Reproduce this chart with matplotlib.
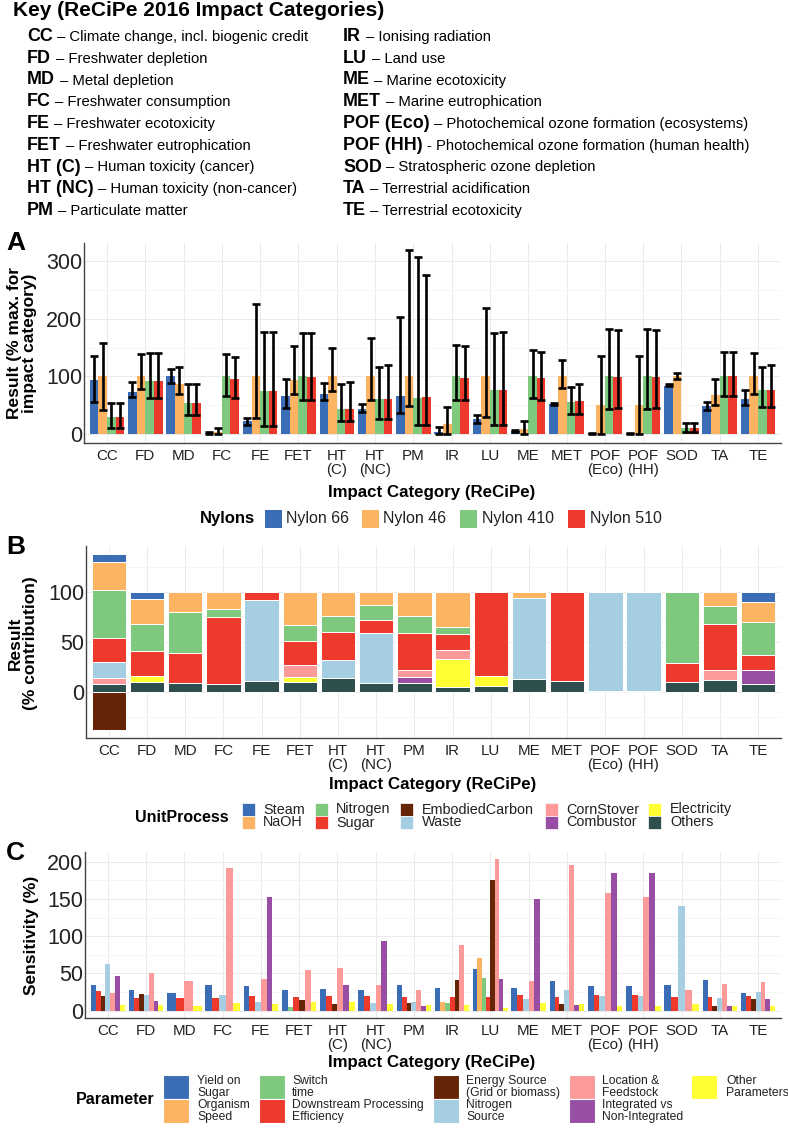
import matplotlib
matplotlib.use('Agg')
import matplotlib.pyplot as plt
import numpy as np
from matplotlib.patches import Rectangle

plt.rcParams['font.family'] = ['Liberation Sans', 'DejaVu Sans']

# ---------------- data ----------------
categories = ['CC', 'FD', 'MD', 'FC', 'FE', 'FET', 'HT\n(C)', 'HT\n(NC)', 'PM', 'IR', 'LU',
              'ME', 'MET', 'POF\n(Eco)', 'POF\n(HH)', 'SOD', 'TA', 'TE']

# Panel A: result as % of max for impact category, with error ranges
nylons = ['Nylon 66', 'Nylon 46', 'Nylon 410', 'Nylon 510']
n66 = [94, 72, 100, 1, 22, 66, 70, 43, 65, 4, 25, 5, 52, 1, 1, 84, 48, 61]
n66_lo = [56, 64, 88, 0, 16, 45, 58, 38, 36, 0, 18, 3, 50, 0, 0, 83, 42, 50]
n66_hi = [136, 90, 113, 3, 28, 95, 88, 51, 203, 12, 32, 7, 54, 2, 2, 86, 55, 77]
n46 = [100, 100, 86, 3, 100, 93, 100, 100, 100, 17, 100, 8, 100, 50, 50, 100, 68, 100]
n46_lo = [42, 78, 70, 0, 27, 70, 74, 58, 48, 0, 30, 0, 80, 0, 0, 95, 50, 70]
n46_hi = [158, 139, 116, 10, 225, 152, 150, 166, 320, 47, 219, 22, 129, 135, 135, 106, 96, 141]
n410 = [30, 92, 53, 100, 75, 100, 43, 60, 63, 100, 76, 100, 55, 100, 100, 10, 100, 77]
n410_lo = [10, 62, 32, 65, 13, 58, 22, 25, 15, 58, 15, 62, 35, 43, 43, 3, 65, 47]
n410_hi = [54, 140, 87, 139, 178, 175, 87, 117, 307, 155, 176, 145, 81, 183, 183, 18, 143, 117]
n510 = [30, 92, 53, 96, 75, 98, 44, 61, 64, 97, 76, 97, 57, 98, 98, 10, 100, 77]
n510_lo = [10, 63, 32, 62, 13, 58, 22, 25, 16, 58, 15, 58, 35, 45, 45, 3, 65, 47]
n510_hi = [54, 141, 87, 134, 178, 175, 91, 119, 276, 153, 177, 143, 87, 180, 180, 18, 143, 119]

# Panel B: % contribution by unit process
up_steam = [8, 7, 0, 0, 0, 0, 0, 0, 0, 0, 0, 0, 0, 0, 0, 0, 0, 10]
up_naoh = [28, 25, 20, 17, 0, 33, 24, 13, 24, 35, 0, 6, 0, 0, 0, 0, 14, 20]
up_nitrogen = [48, 27, 41, 8, 0, 16, 16, 15, 17, 7, 0, 0, 0, 0, 0, 71, 18, 33]
up_sugar = [24, 25, 30, 67, 8, 24, 28, 13, 37, 16, 84, 0, 89, 0, 0, 19, 46, 15]
up_embodied = [-38, 0, 0, 0, 0, 0, 0, 0, 0, 0, 0, 0, 0, 0, 0, 0, 0, 0]
up_waste = [16, 0, 0, 0, 81, 0, 18, 50, 0, 0, 0, 81, 0, 98.5, 98.5, 0, 0, 0]
up_cornstover = [6, 0, 0, 0, 0, 12, 0, 0, 7, 9, 0, 0, 0, 0, 0, 0, 10, 0]
up_combustor = [0, 0, 0, 0, 0, 0, 0, 0, 6, 0, 0, 0, 0, 0, 0, 0, 0, 14]
up_electricity = [0, 6, 0, 0, 0, 5, 0, 0, 0, 28, 10, 0, 0, 0, 0, 0, 0, 0]
up_others = [8, 10, 9, 8, 11, 10, 14, 9, 9, 5, 6, 13, 11, 1.5, 1.5, 10, 12, 8]

# Panel C: sensitivity (%) by parameter (nan = parameter not shown)
nan = np.nan
p_yield = [35, 27, 24, 35, 33, 28, 29, 27, 34, 30, 56, 30, 40, 33.5, 33.5, 34, 41, 23]
p_speed = [nan, nan, nan, nan, nan, nan, nan, nan, nan, 11, 70, nan, nan, nan, nan, nan, nan, nan]
p_switch = [nan, nan, nan, nan, nan, 5, nan, nan, nan, 10, 44, nan, nan, nan, nan, nan, nan, nan]
p_downstream = [26, 17, 17, 17, 20, 18, 19, 20, 18, 18, 18, 21, 18, 20.5, 20.5, 18, 18, 19]
p_energy = [19, 22, nan, nan, nan, 14, 9, nan, 10, 41, 175, nan, 9, nan, nan, nan, 6, 16]
p_nitrogen = [62, 21, nan, 21, 12, nan, nan, 10, 12, nan, nan, 15, 27, 19, 19, 140, 17, 25]
p_location = [24, 50, 40, 191, 42, 55, 57, 34, 27, 88, 204, 40, 196, 158, 153, 27, 36, 39]
p_integrated = [46, 13, nan, nan, 152, nan, 35, 93, 6, nan, 42, 150, 8, 185, 185, nan, 6, 16]
p_other = [8, 8, 6, 10, 9, 11, 12, 9, 8, 8, 4, 10, 9, 6, 6, 9, 6, 6]

# ---------------- styling ----------------
W, H = 788, 1147
fig = plt.figure(figsize=(W / 100, H / 100), dpi=100)
R = fig.canvas.get_renderer()

def fx(x):
    return x / W

def fy(y):
    return 1 - y / H

def make_ax(l, t, r, b):
    return fig.add_axes([fx(l), fy(b), (r - l) / W, (b - t) / H])

TXT = '#222222'
xpos = np.arange(len(categories))

def style(ax, ylim, yticks, yminor):
    ax.set_xlim(-0.6, len(categories) - 0.4)
    ax.set_ylim(*ylim)
    ax.set_xticks(xpos)
    ax.set_xticklabels(categories, fontsize=10.9, color=TXT, linespacing=1.05)
    ax.set_yticks(yticks)
    ax.set_yticklabels([str(v) for v in yticks], fontsize=15.5, color=TXT)
    ax.set_yticks(yminor, minor=True)
    ax.grid(True, which='major', color='#ebebeb', lw=0.7)
    ax.grid(True, which='minor', axis='y', color='#f3f3f3', lw=0.5)
    ax.set_axisbelow(True)
    for s in ['top', 'right']:
        ax.spines[s].set_visible(False)
    for s in ['left', 'bottom']:
        ax.spines[s].set_color('#444444')
        ax.spines[s].set_linewidth(1.0)
    ax.tick_params(axis='x', which='major', length=0, pad=4)
    ax.tick_params(axis='y', which='major', length=0, pad=1)
    ax.tick_params(which='minor', length=0)

def fit_size(s, target, weight='normal'):
    t = fig.text(0, 0, s, fontsize=10, fontweight=weight)
    w = t.get_window_extent(R).width
    t.remove()
    return 10 * target / w

# ---------------- Key ----------------
key_left = [("CC", "– Climate change, incl. biogenic credit"), ("FD", "– Freshwater depletion"),
            ("MD", "– Metal depletion"), ("FC", "– Freshwater consumption"),
            ("FE", "– Freshwater ecotoxicity"), ("FET", "– Freshwater eutrophication"),
            ("HT (C)", "– Human toxicity (cancer)"), ("HT (NC)", "– Human toxicity (non-cancer)"),
            ("PM", "– Particulate matter")]
key_right = [("IR", "– Ionising radiation"), ("LU", "– Land use"), ("ME", "– Marine ecotoxicity"),
             ("MET", "– Marine eutrophication"),
             ("POF (Eco)", "– Photochemical ozone formation (ecosystems)"),
             ("POF (HH)", "- Photochemical ozone formation (human health)"),
             ("SOD", "– Stratospheric ozone depletion"), ("TA", "– Terrestrial acidification"),
             ("TE", "– Terrestrial ecotoxicity")]

title_fs = fit_size("Key (ReCiPe 2016 Impact Categories)", 369, 'bold')
fig.text(fx(13), fy(16), "Key (ReCiPe 2016 Impact Categories)", fontsize=title_fs,
         fontweight='bold', va='baseline', ha='left', color='black')
bold_fs = fit_size("HT (NC)", 66, 'bold')
reg_fs = fit_size("– Climate change, incl. biogenic credit", 251)

def key_entry(x, y, b, t):
    tb = fig.text(fx(x), fy(y), b, fontsize=bold_fs, fontweight='bold', va='baseline', ha='left')
    bb = tb.get_window_extent(R)
    fig.text((bb.x1 + 4.5) / W, fy(y), t, fontsize=reg_fs, va='baseline', ha='left')

for i, (b, t) in enumerate(key_left):
    key_entry(27, 41 + 21.75 * i, b, t)
for i, (b, t) in enumerate(key_right):
    key_entry(343, 41 + 21.75 * i, b, t)

# ---------------- Panel A ----------------
colA = ['#3a6db5', '#fdb462', '#7fc97f', '#ee3a2c']
axA = make_ax(84, 243, 781, 443)
style(axA, (-16, 332), [0, 100, 200, 300], [50, 150, 250])
bw = 0.225
seriesA = [(n66, n66_lo, n66_hi), (n46, n46_lo, n46_hi), (n410, n410_lo, n410_hi), (n510, n510_lo, n510_hi)]
for k, (v, lo, hi) in enumerate(seriesA):
    v = np.array(v, float); lo = np.array(lo, float); hi = np.array(hi, float)
    xs = xpos + (k - 1.5) * bw
    axA.bar(xs, v, width=bw, color=colA[k], zorder=2)
    axA.errorbar(xs, v, yerr=[v - lo, hi - v], fmt='none', ecolor='black', elinewidth=1.9,
                 capsize=2.8, capthick=1.9, zorder=3)

fig.text(fx(6), fy(243), 'A', fontsize=19, fontweight='bold', va='center', ha='left')
fig.text(fx(22), fy(343), 'Result (% max. for\nimpact category)', fontsize=12.5, fontweight='bold',
         rotation=90, va='center', ha='center', linespacing=1.0)
fig.text(fx(432), fy(492), 'Impact Category (ReCiPe)', fontsize=12.2, fontweight='bold',
         va='center', ha='center')
# legend A
fig.text(fx(200), fy(519), 'Nylons', fontsize=12, fontweight='bold', va='center', ha='left')
for bx, tx, c, lab in zip([265, 362, 460, 568], [286, 383, 482, 590], colA, nylons):
    fig.patches.append(Rectangle((fx(bx), fy(527.5)), 17 / W, 17 / H, transform=fig.transFigure,
                                 facecolor=c, edgecolor='none'))
    fig.text(fx(tx), fy(519), lab, fontsize=11.5, va='center', ha='left', color=TXT)

# ---------------- Panel B ----------------
unit_names = ['Steam', 'NaOH', 'Nitrogen', 'Sugar', 'EmbodiedCarbon', 'Waste', 'CornStover',
              'Combustor', 'Electricity', 'Others']
unit_vals = [up_steam, up_naoh, up_nitrogen, up_sugar, up_embodied, up_waste, up_cornstover,
             up_combustor, up_electricity, up_others]
unit_cols = ['#3a6db5', '#fdb462', '#7fc97f', '#ee3a2c', '#662506', '#a6cee3', '#fb9a99',
             '#984ea3', '#ffff33', '#2f4f4f']
axB = make_ax(86, 546, 781, 738)
style(axB, (-46, 146), [0, 50, 100], [-25, 25, 75, 125])
pos_base = np.zeros(len(categories))
neg_base = np.zeros(len(categories))
for k in reversed(range(len(unit_names))):
    v = np.array(unit_vals[k], float)
    pos = np.where(v > 0, v, 0)
    neg = np.where(v < 0, v, 0)
    if (pos > 0).any():
        mm = pos > 0
        axB.bar(xpos[mm], pos[mm], bottom=pos_base[mm], width=0.9, color=unit_cols[k],
                edgecolor='white', linewidth=0.7, zorder=2)
        pos_base += pos
    if (neg < 0).any():
        mm = neg < 0
        axB.bar(xpos[mm], neg[mm], bottom=neg_base[mm], width=0.9, color=unit_cols[k],
                edgecolor='white', linewidth=0.7, zorder=2)
        neg_base += neg

fig.text(fx(6), fy(547), 'B', fontsize=19, fontweight='bold', va='center', ha='left')
fig.text(fx(23), fy(643), 'Result\n(% contribution)', fontsize=12.5, fontweight='bold',
         rotation=90, va='center', ha='center', linespacing=1.05)
fig.text(fx(433), fy(785), 'Impact Category (ReCiPe)', fontsize=12.2, fontweight='bold',
         va='center', ha='center')
fig.text(fx(135), fy(817), 'UnitProcess', fontsize=11.5, fontweight='bold', va='center', ha='left')
box_x = [242, 315, 400, 545, 648]
lab_x = [263, 336, 422, 566, 670]
for k, name in enumerate(unit_names):
    col, row = k // 2, k % 2
    top = 803 + 13 * row
    fig.patches.append(Rectangle((fx(box_x[col]), fy(top + 13)), 13 / W, 13 / H,
                                 transform=fig.transFigure, facecolor=unit_cols[k],
                                 edgecolor='white', linewidth=0.5))
    fig.text(fx(lab_x[col]), fy(top + 6.5), name, fontsize=10.4, va='center', ha='left', color=TXT)

# ---------------- Panel C ----------------
param_labels = ['Yield on\nSugar', 'Organism\nSpeed', 'Switch\ntime', 'Downstream Processing\nEfficiency',
                'Energy Source\n(Grid or biomass)', 'Nitrogen\nSource', 'Location &\nFeedstock',
                'Integrated vs\nNon-Integrated', 'Other\nParameters']
param_vals = [p_yield, p_speed, p_switch, p_downstream, p_energy, p_nitrogen, p_location,
              p_integrated, p_other]
param_cols = ['#3a6db5', '#fdb462', '#7fc97f', '#ee3a2c', '#662506', '#a6cee3', '#fb9a99',
              '#984ea3', '#ffff33']
axC = make_ax(85, 852, 781, 1018)
style(axC, (-10, 213), [0, 50, 100, 150, 200], [25, 75, 125, 175])
P = np.array(param_vals, float)
present = ~np.isnan(P)
counts = present.sum(axis=0)
for k in range(len(param_vals)):
    xs, ws, vs = [], [], []
    for i in range(len(categories)):
        if not present[k, i]:
            continue
        n = counts[i]
        w = 0.9 / n
        rank = present[:k, i].sum()
        xs.append(i - 0.45 + w * (rank + 0.5))
        ws.append(w)
        vs.append(P[k, i])
    axC.bar(xs, vs, width=ws, color=param_cols[k], zorder=2)

fig.text(fx(6), fy(853), 'C', fontsize=19, fontweight='bold', va='center', ha='left')
fig.text(fx(32), fy(935), 'Sensitivity (%)', fontsize=12.5, fontweight='bold',
         rotation=90, va='center', ha='center')
fig.text(fx(432), fy(1062), 'Impact Category (ReCiPe)', fontsize=12.2, fontweight='bold',
         va='center', ha='center')
fig.text(fx(76), fy(1099), 'Parameter', fontsize=11.5, fontweight='bold', va='center', ha='left')
cbox_x = [163, 259, 433, 569, 691]
clab_x = [197, 292, 466, 602, 726]
for k, lab in enumerate(param_labels):
    col, row = k // 2, k % 2
    top = 1075 + 24 * row
    fig.patches.append(Rectangle((fx(cbox_x[col]), fy(top + 24)), 26 / W, 24 / H,
                                 transform=fig.transFigure, facecolor=param_cols[k],
                                 edgecolor='white', linewidth=0.8))
    fig.text(fx(clab_x[col]), fy(top + 12), lab, fontsize=8.7, va='center', ha='left',
             color=TXT, linespacing=1.1)

fig.savefig('out.png', dpi=100)
